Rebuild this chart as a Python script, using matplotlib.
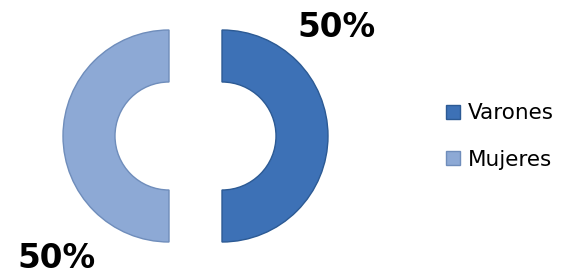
import matplotlib
matplotlib.use("Agg")
import matplotlib.pyplot as plt

categories = ["Varones", "Mujeres"]
values = [50, 50]
colors = ["#3d71b6", "#8da9d5"]
edge_colors = ["#2c5a94", "#6f8dbb"]

W, H = 562, 275
fig = plt.figure(figsize=(W / 100, H / 100), dpi=100)
ax = fig.add_axes([0, 0, 1, 1])

R = 106
wedges, _ = ax.pie(values, radius=R, center=(195.5, 136), startangle=90,
                   counterclock=False, explode=[26.5, 26.5], colors=colors,
                   wedgeprops=dict(width=52, linewidth=1.0))
for w, ec in zip(wedges, edge_colors):
    w.set_edgecolor(ec)

ax.set_xlim(0, W)
ax.set_ylim(H, 0)
ax.set_aspect("equal")
ax.axis("off")

total = sum(values)
pcts = [f"{v / total * 100:.0f}%" for v in values]
label_pos = [(337, 37), (56, 268)]
for p, (x, y) in zip(pcts, label_pos):
    ax.text(x, y, p, ha="center", va="baseline", fontsize=23.5,
            fontweight="bold", family="DejaVu Sans", color="black")

handles = [plt.Line2D([], [], marker="s", linestyle="none", markersize=10.5,
                      markerfacecolor=c, markeredgecolor=ec, markeredgewidth=1.0)
           for c, ec in zip(colors, edge_colors)]
fig.legend(handles, categories, loc="center left",
           bbox_to_anchor=(444 / W, 1 - 136.5 / H), frameon=False,
           fontsize=15.5, handlelength=0.8, handletextpad=0.3,
           labelspacing=1.25, borderpad=0, borderaxespad=0)

fig.savefig("out.png", dpi=100)
